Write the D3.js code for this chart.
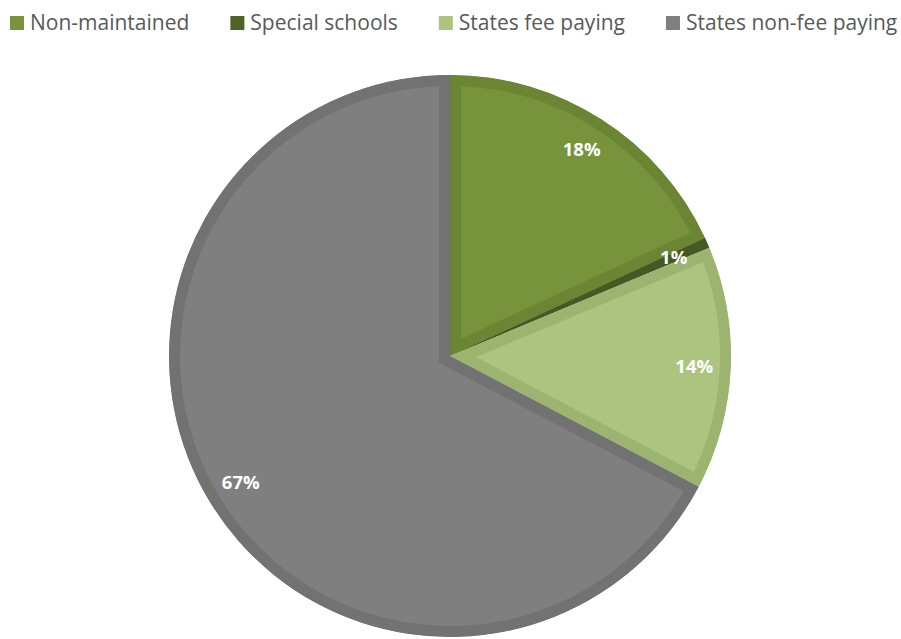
<html>
<head>
	<title>Schools pie</title>
	<style>
		body { margin: 0; background: #fff; }
	</style>
</head>
<body>
	<script src="https://cdnjs.cloudflare.com/ajax/libs/d3/7.8.5/d3.min.js"></script>
	<script type="text/javascript">
		// data
		var categories = ["Non-maintained", "Special schools", "States fee paying", "States non-fee paying"];
		var values = [18.1, 0.6, 14.0, 67.3];
		var fills = ["#77933c", "#4f6228", "#adc480", "#7f7f7f"];
		var borders = ["#6b8535", "#465823", "#9bb46f", "#727272"];

		var width = 901, height = 639;
		var cx = 450, cy = 356, r = 281;
		var bw = 11; // inner border width

		var svg = d3.select("body").append("svg")
			.attr("width", width)
			.attr("height", height);

		var data = categories.map(function(c, i){
			return {name: c, value: values[i], i: i};
		});

		var pie = d3.pie().sort(null).value(function(d){ return d.value; });
		var arcs = pie(data);
		var arc = d3.arc().innerRadius(0).outerRadius(r);
		var labelArc = d3.arc().innerRadius(r*0.87).outerRadius(r*0.87);
		var total = d3.sum(values);

		var defs = svg.append("defs");
		defs.selectAll("clipPath")
			.data(arcs)
			.enter().append("clipPath")
			.attr("id", function(d){ return "clip" + d.data.i; })
			.append("path")
			.attr("d", arc);

		var g = svg.append("g")
			.attr("transform", "translate(" + cx + "," + cy + ")");

		g.selectAll("path.slice")
			.data(arcs)
			.enter().append("path")
			.attr("class", "slice")
			.attr("d", arc)
			.attr("clip-path", function(d){ return "url(#clip" + d.data.i + ")"; })
			.style("fill", function(d){ return fills[d.data.i]; })
			.style("stroke", function(d){ return borders[d.data.i]; })
			.style("stroke-width", (bw*2) + "px")
			.style("stroke-linejoin", "miter");

		g.selectAll("text.lbl")
			.data(arcs)
			.enter().append("text")
			.attr("class", "lbl")
			.attr("transform", function(d){ return "translate(" + labelArc.centroid(d) + ")"; })
			.attr("text-anchor", "middle")
			.attr("dy", "0.35em")
			.style("font-family", "'Open Sans', sans-serif")
			.style("font-weight", "bold")
			.style("font-size", "18.5px")
			.style("fill", "#fff")
			.text(function(d){ return Math.round(d.data.value / total * 100) + "%"; });

		// legend
		var legend = svg.append("g").attr("class", "legend");
		var x = 10;
		data.forEach(function(d){
			var item = legend.append("g").attr("transform", "translate(" + x + ",0)");
			item.append("rect")
				.attr("x", 0).attr("y", 16)
				.attr("width", 14).attr("height", 14)
				.style("fill", fills[d.i]);
			var t = item.append("text")
				.attr("x", 20).attr("y", 30)
				.style("font-family", "'Open Sans', sans-serif")
				.style("font-size", "21px")
				.style("fill", "#595959")
				.text(d.name);
			x += 20 + t.node().getComputedTextLength() + 41;
		});
	</script>
</body>
</html>
